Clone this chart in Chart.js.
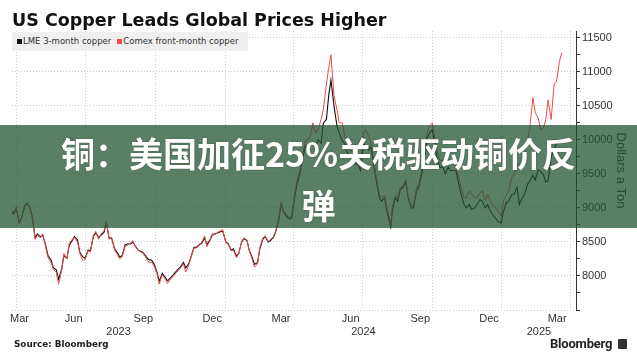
<!DOCTYPE html>
<html>
<head>
<meta charset="utf-8">
<script src="https://cdn.jsdelivr.net/npm/chart.js@4.4.1/dist/chart.umd.min.js"></script>
<style>
  html, body { margin: 0; padding: 0; background: #fff; }
  #wrap { position: relative; width: 637px; height: 354px; overflow: hidden; }
  #chart { position: absolute; left: 0; top: 0; }
  .title { position: absolute; left: 12px; top: 10px; line-height: 18px; white-space: nowrap;
           font: bold 17.5px 'DejaVu Sans', sans-serif; color: #111; }
  .legend { position: absolute; left: 12px; top: 32px; width: 236px; height: 19px; background: #efefef;
            font: 8.5px 'DejaVu Sans', sans-serif; color: #333; line-height: 19px; white-space: nowrap; }
  .legend .sw { display: inline-block; width: 5px; height: 5px; vertical-align: 0px; margin: 0 1px 0 5px; }
  .legend .gap { display: inline-block; width: 6px; }
  .source { position: absolute; left: 14px; top: 339px; font: bold 8.8px 'DejaVu Sans', sans-serif; color: #222; }
  .logo { position: absolute; left: 550px; top: 336px; font: bold 13px Roboto, sans-serif; color: #222; letter-spacing: -0.2px; }
  .logo-icon { position: absolute; left: 618px; top: 339px; width: 9px; height: 10px; background: #333; border-radius: 1px; }
  .banner { position: absolute; left: 0; top: 125px; width: 637px; height: 103px; background: rgba(35, 84, 52, 0.75);
            text-align: center; color: #fff; font: bold 34px 'Noto Sans CJK SC', sans-serif; line-height: 52px;
            padding-top: 2px; box-sizing: border-box; text-shadow: 0 0 2px rgba(0,0,0,0.3); }
</style>
</head>
<body>
<div id="wrap">
  <canvas id="chart" width="637" height="354"></canvas>
  <div class="title">US Copper Leads Global Prices Higher</div>
  <div class="legend"><span class="sw" style="background:#111"></span>LME 3-month copper<span class="gap"></span><span class="sw" style="background:#ef4b4b;margin-left:0"></span>Comex front-month copper</div>
  <div class="source">Source: Bloomberg</div>
  <div class="logo">Bloomberg</div>
  <div class="logo-icon"></div>
  <div class="banner">铜：美国加征25%关税驱动铜价反<br>弹</div>
</div>
<script>
// Prices, roughly twice a week, $ per metric ton. One line per month.
const dates = [
  '2023-03-24', '2023-03-28', '2023-03-31',
  '2023-04-04', '2023-04-07', '2023-04-11', '2023-04-14', '2023-04-18', '2023-04-21', '2023-04-25', '2023-04-28',
  '2023-05-02', '2023-05-05', '2023-05-09', '2023-05-12', '2023-05-16', '2023-05-19', '2023-05-23', '2023-05-26', '2023-05-30',
  '2023-06-02', '2023-06-06', '2023-06-09', '2023-06-13', '2023-06-16', '2023-06-20', '2023-06-23', '2023-06-27', '2023-06-30',
  '2023-07-04', '2023-07-07', '2023-07-11', '2023-07-14', '2023-07-18', '2023-07-21', '2023-07-25', '2023-07-28',
  '2023-08-01', '2023-08-04', '2023-08-08', '2023-08-11', '2023-08-15', '2023-08-18', '2023-08-22', '2023-08-25', '2023-08-29',
  '2023-09-01', '2023-09-05', '2023-09-08', '2023-09-12', '2023-09-15', '2023-09-19', '2023-09-22', '2023-09-26', '2023-09-29',
  '2023-10-03', '2023-10-06', '2023-10-10', '2023-10-13', '2023-10-17', '2023-10-20', '2023-10-24', '2023-10-27', '2023-10-31',
  '2023-11-03', '2023-11-07', '2023-11-10', '2023-11-14', '2023-11-17', '2023-11-21', '2023-11-24', '2023-11-28',
  '2023-12-01', '2023-12-05', '2023-12-08', '2023-12-12', '2023-12-15', '2023-12-19', '2023-12-22', '2023-12-26', '2023-12-29',
  '2024-01-02', '2024-01-05', '2024-01-09', '2024-01-12', '2024-01-16', '2024-01-19', '2024-01-23', '2024-01-26', '2024-01-30',
  '2024-02-02', '2024-02-06', '2024-02-09', '2024-02-13', '2024-02-16', '2024-02-20', '2024-02-23', '2024-02-27',
  '2024-03-01', '2024-03-05', '2024-03-08', '2024-03-12', '2024-03-15', '2024-03-19', '2024-03-22', '2024-03-26', '2024-03-29',
  '2024-04-02', '2024-04-05', '2024-04-09', '2024-04-12', '2024-04-16', '2024-04-19', '2024-04-23', '2024-04-26', '2024-04-30',
  '2024-05-03', '2024-05-07', '2024-05-10', '2024-05-14', '2024-05-17', '2024-05-20', '2024-05-24', '2024-05-28', '2024-05-31',
  '2024-06-04', '2024-06-07', '2024-06-11', '2024-06-14', '2024-06-18', '2024-06-21', '2024-06-25', '2024-06-28',
  '2024-07-02', '2024-07-05', '2024-07-09', '2024-07-12', '2024-07-16', '2024-07-19', '2024-07-23', '2024-07-26', '2024-07-30',
  '2024-08-02', '2024-08-07', '2024-08-09', '2024-08-13', '2024-08-16', '2024-08-20', '2024-08-23', '2024-08-27', '2024-08-30',
  '2024-09-03', '2024-09-06', '2024-09-10', '2024-09-13', '2024-09-17', '2024-09-20', '2024-09-24', '2024-09-27',
  '2024-10-01', '2024-10-04', '2024-10-08', '2024-10-11', '2024-10-15', '2024-10-18', '2024-10-22', '2024-10-25', '2024-10-29',
  '2024-11-01', '2024-11-05', '2024-11-08', '2024-11-12', '2024-11-15', '2024-11-19', '2024-11-22', '2024-11-26', '2024-11-29',
  '2024-12-03', '2024-12-06', '2024-12-10', '2024-12-13', '2024-12-17', '2024-12-20', '2024-12-27', '2024-12-31',
  '2025-01-03', '2025-01-07', '2025-01-10', '2025-01-14', '2025-01-17', '2025-01-21', '2025-01-24', '2025-01-28', '2025-01-31',
  '2025-02-04', '2025-02-07', '2025-02-11', '2025-02-14', '2025-02-18', '2025-02-21', '2025-02-25', '2025-02-28',
  '2025-03-03', '2025-03-07', '2025-03-11', '2025-03-14', '2025-03-18', '2025-03-21'
];

const lme = [
  8970, 8920, 9000,
  8780, 8850, 9020, 9070, 9010, 8880, 8560, 8620,
  8575, 8600, 8450, 8300, 8235, 8120, 8090, 7950, 8100,
  8300, 8260, 8450, 8520, 8580, 8530, 8350, 8280, 8260,
  8380, 8370, 8580, 8640, 8560, 8600, 8640, 8780,
  8550, 8560, 8400, 8350, 8280, 8300, 8460, 8470, 8470,
  8500, 8430, 8380, 8360, 8340, 8280, 8240, 8230, 8180,
  8060, 7920, 8040, 7990, 7930, 7960, 8010, 8050, 8100,
  8130, 8200, 8120, 8180, 8280, 8420, 8420, 8460,
  8480, 8560, 8460, 8530, 8600, 8620, 8630, 8650, 8660,
  8500, 8480, 8380, 8400, 8290, 8330, 8500, 8550, 8520,
  8380, 8270, 8170, 8200, 8400, 8540, 8580, 8500,
  8520, 8570, 8650, 8820, 9050, 8930, 8880, 8840, 8850,
  9150, 9350, 9500, 9700, 9900, 9900, 9950, 9950, 9900,
  10000, 9950, 10250, 10300, 10650, 10880, 10500, 10200, 10100,
  9980, 9950, 9800, 9750, 9780, 9650, 9640, 9550,
  9950, 9900, 9850, 9900, 9600, 9400, 9150, 9100, 9150,
  8950, 8720, 8950, 9150, 9100, 9280, 9300, 9380, 9150,
  9000, 9000, 9250, 9300, 9500, 9650, 10000, 10100,
  10150, 9950, 9700, 9600, 9600, 9500, 9600, 9550, 9550,
  9550, 9350, 9200, 9050, 9000, 9050, 8980, 9000, 9050,
  9120, 9100, 9000, 9050, 8950, 8900, 8800, 8780,
  8950, 9080, 9100, 9200, 9200, 9300, 9050, 9150, 9200,
  9350, 9400, 9480, 9410, 9560, 9540, 9480, 9380,
  9400, 9750, 9850, 9950, 9980, 9990
];

const comex = [
  8940, 8900, 8990,
  8790, 8860, 9040, 9060, 9000, 8870, 8540, 8600,
  8560, 8620, 8420, 8270, 8200, 8100, 8050, 7880, 8080,
  8330, 8250, 8480, 8540, 8560, 8500, 8330, 8230, 8240,
  8370, 8350, 8600, 8650, 8540, 8620, 8660, 8800,
  8540, 8570, 8380, 8330, 8250, 8280, 8440, 8450, 8480,
  8520, 8420, 8380, 8350, 8330, 8260, 8200, 8200, 8150,
  8040, 7880, 8020, 7970, 7890, 7940, 7990, 8030, 8080,
  8110, 8180, 8060, 8160, 8270, 8410, 8410, 8450,
  8490, 8590, 8430, 8520, 8620, 8610, 8640, 8670, 8680,
  8490, 8470, 8370, 8380, 8270, 8320, 8510, 8560, 8530,
  8370, 8240, 8130, 8180, 8420, 8560, 8590, 8510,
  8530, 8580, 8660, 8850, 9080, 8950, 8900, 8860, 8880,
  9200, 9400, 9560, 9750, 9970, 10000, 10050, 10250, 10100,
  10150, 10300, 10450, 10820, 11050, 11250, 10650, 10440, 10250,
  10250, 10050, 9950, 9850, 9820, 9700, 9680, 9600,
  10100, 10150, 10050, 9950, 9650, 9450, 9200, 9150, 9180,
  9000, 8760, 9000, 9180, 9150, 9300, 9320, 9420, 9170,
  9030, 9050, 9280, 9350, 9560, 9750, 10100, 10200,
  10250, 10050, 9800, 9700, 9700, 9650, 9700, 9650, 9650,
  9600, 9450, 9300, 9150, 9150, 9250, 9200, 9150, 9150,
  9220, 9250, 9100, 9200, 9100, 9050, 8950, 8880,
  9100, 9200, 9250, 9450, 9500, 9600, 9650, 9650, 9750,
  10000, 10200, 10620, 10400, 10320, 10150, 10180, 10300,
  10590, 10300, 10820, 10850, 11150, 11280
];

// Axis furniture
const gridDates = ['2023-04-01', '2023-07-01', '2023-10-01', '2024-01-01', '2024-04-01', '2024-07-01', '2024-10-01', '2025-01-01', '2025-04-01'];
const monthDates = ['2023-03-15', '2023-06-15', '2023-09-15', '2023-12-15', '2024-03-15', '2024-06-15', '2024-09-15', '2024-12-15', '2025-03-15'];
const monthLabels = ['Mar', 'Jun', 'Sep', 'Dec', 'Mar', 'Jun', 'Sep', 'Dec', 'Mar'];
const years = [2023, 2024, 2025];
const yTicks = [7500, 7750, 8000, 8250, 8500, 8750, 9000, 9250, 9500, 9750, 10000, 10250, 10500, 10750, 11000, 11250, 11500];

const X_MIN = 83.4;   // ~2023-03-25
const X_MAX = 828.9;  // ~2025-04-09

function dayOf(s) {
  const [y, m, d] = s.split('-').map(Number);
  return (Date.UTC(y, m - 1, d) - Date.UTC(2023, 0, 1)) / 864e5;
}

function buildXTicks(scale) {
  const t = [];
  gridDates.forEach(d => t.push({ value: dayOf(d), text: '', grid: true }));
  // first label is nudged inside the plot like the original
  monthDates.forEach((d, i) => t.push({ value: Math.max(dayOf(d), scale.min + 10), text: [monthLabels[i]], grid: false }));
  years.forEach(y => {
    const a = Math.max(dayOf(y + '-01-01'), scale.min);
    const b = Math.min(dayOf((y + 1) + '-01-01'), scale.max);
    t.push({ value: (a + b) / 2, text: ['', String(y)], grid: false });
  });
  t.sort((p, q) => p.value - q.value);
  scale.ticks = t;
}

Chart.defaults.font.family = "'Liberation Sans', sans-serif";
Chart.defaults.color = '#333';

new Chart(document.getElementById('chart'), {
  type: 'line',
  data: {
    datasets: [
      {
        label: 'Comex front-month copper',
        data: dates.map((d, i) => ({ x: dayOf(d), y: comex[i] })),
        borderColor: '#ef4b4b',
        borderWidth: 1,
        pointRadius: 0,
        tension: 0,
        order: 0
      },
      {
        label: 'LME 3-month copper',
        data: dates.map((d, i) => ({ x: dayOf(d), y: lme[i] })),
        borderColor: '#111',
        borderWidth: 1.1,
        pointRadius: 0,
        tension: 0,
        order: 1
      }
    ]
  },
  options: {
    responsive: false,
    animation: false,
    events: [],
    layout: { padding: { left: 12, top: 31, right: 0, bottom: 0 } },
    plugins: { legend: { display: false }, tooltip: { enabled: false } },
    scales: {
      x: {
        type: 'linear',
        min: X_MIN,
        max: X_MAX,
        afterBuildTicks: buildXTicks,
        afterFit: s => { s.height = 44; },
        grid: {
          color: c => (c.tick && c.tick.grid) ? '#cdcdcd' : 'rgba(0,0,0,0)',
          drawTicks: false
        },
        border: { display: false, dash: [1, 2] },
        ticks: {
          autoSkip: false,
          maxRotation: 0,
          padding: 2,
          font: { size: 11, lineHeight: 1.2 },
          callback: (v, i, t) => t[i].text
        }
      },
      y: {
        position: 'right',
        min: 7500,
        max: 11600,
        afterBuildTicks: s => { s.ticks = yTicks.map(v => ({ value: v })); },
        afterFit: s => { s.width = 61; },
        grid: {
          color: c => (c.tick && c.tick.value % 500 === 0) ? '#cdcdcd' : 'rgba(0,0,0,0)',
          tickColor: '#333',
          tickLength: 4
        },
        border: { display: true, color: '#333', width: 1, dash: [1, 2] },
        ticks: {
          padding: 2,
          font: { size: 11 },
          callback: v => (v % 500 === 0 && v >= 8000) ? String(v) : ''
        },
        title: {
          display: true,
          text: 'Dollars a Ton',
          color: '#333',
          font: { size: 13 },
          padding: { top: 9, bottom: 0 }
        }
      }
    }
  }
});
</script>
</body>
</html>
